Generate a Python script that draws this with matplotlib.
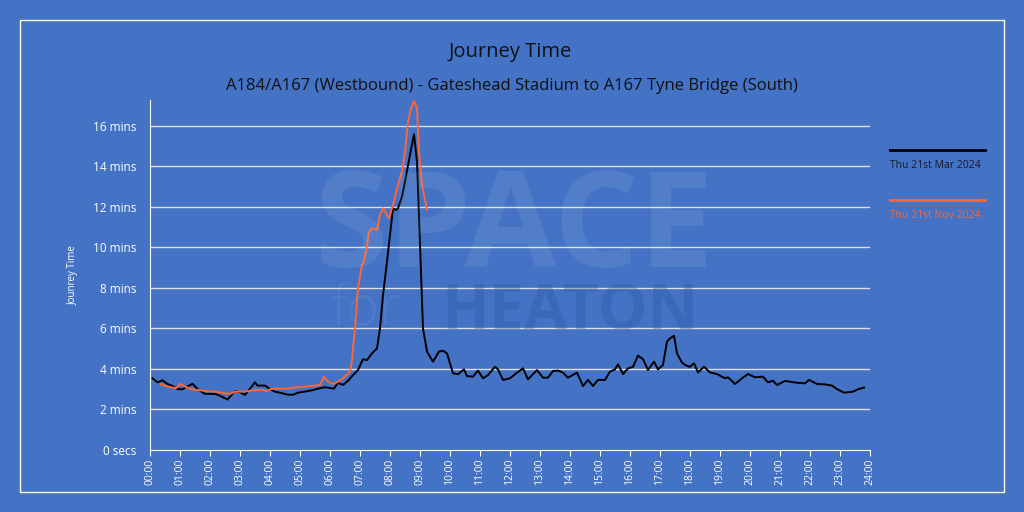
import matplotlib
matplotlib.use("Agg")
import matplotlib.pyplot as plt
import numpy as np
from matplotlib.patches import Rectangle
from matplotlib.lines import Line2D

plt.rcParams['font.family'] = ['Open Sans', 'DejaVu Sans']

# minutes after midnight, journey time in minutes
mar_minutes = [5, 15, 25, 35, 45, 55, 65, 75, 85, 95, 110, 130, 140, 155, 170, 180, 190,
               210, 215, 230, 240, 250, 260, 276, 286, 296, 314, 326, 340, 350, 360, 368,
               376, 386, 396, 406, 416, 426, 434, 444, 454, 460, 466, 474, 480, 486, 492,
               496, 504, 510, 520, 528, 534, 540, 546, 554, 566, 578, 586, 594, 606, 616,
               628, 634, 646, 656, 666, 676, 690, 696, 706, 720, 734, 746, 756, 774, 786,
               796, 806, 816, 826, 836, 854, 866, 876, 886, 896, 910, 920, 930, 936, 946,
               956, 966, 976, 986, 996, 1008, 1016, 1026, 1034, 1040, 1048, 1054, 1064,
               1074, 1080, 1088, 1096, 1108, 1120, 1134, 1150, 1156, 1170, 1184, 1196,
               1210, 1226, 1236, 1246, 1254, 1270, 1294, 1310, 1318, 1334, 1350, 1364,
               1374, 1388, 1406, 1416, 1428]
mar_values = [3.54, 3.34, 3.44, 3.26, 3.16, 3.01, 3.0, 3.14, 3.27, 3.01, 2.77, 2.77, 2.68,
              2.49, 2.91, 2.85, 2.72, 3.34, 3.18, 3.18, 3.01, 2.88, 2.83, 2.73, 2.73, 2.83,
              2.9, 2.96, 3.05, 3.1, 3.06, 3.03, 3.32, 3.21, 3.42, 3.7, 3.95, 4.48, 4.44,
              4.77, 5.02, 6.0, 7.65, 9.3, 10.62, 11.93, 11.85, 11.93, 12.51, 13.25, 14.57,
              15.59, 14.24, 10.12, 6.0, 4.86, 4.36, 4.86, 4.9, 4.77, 3.79, 3.74, 3.98, 3.65,
              3.62, 3.92, 3.54, 3.7, 4.11, 3.98, 3.46, 3.54, 3.82, 4.03, 3.49, 3.95, 3.57,
              3.57, 3.9, 3.92, 3.82, 3.57, 3.82, 3.16, 3.46, 3.16, 3.46, 3.46, 3.87, 3.98,
              4.23, 3.75, 4.03, 4.11, 4.66, 4.49, 3.95, 4.36, 3.98, 4.2, 5.35, 5.51, 5.64,
              4.77, 4.31, 4.15, 4.11, 4.28, 3.83, 4.11, 3.83, 3.75, 3.54, 3.59, 3.26, 3.54,
              3.75, 3.59, 3.62, 3.34, 3.42, 3.21, 3.41, 3.32, 3.29, 3.46, 3.26, 3.24, 3.18,
              3.01, 2.83, 2.88, 3.0, 3.08]

nov_minutes = [22, 36, 52, 60, 70, 82, 96, 112, 130, 150, 160, 170, 182, 196, 210, 226,
               232, 242, 254, 274, 294, 304, 320, 340, 348, 356, 366, 376, 386, 400, 404,
               406, 410, 416, 424, 428, 434, 438, 444, 454, 460, 466, 478, 486, 494, 504,
               510, 516, 522, 528, 534, 538, 544, 548, 554]
nov_values = [3.24, 3.13, 3.05, 3.26, 3.13, 3.01, 2.96, 2.91, 2.88, 2.8, 2.77, 2.88, 2.88,
              2.91, 2.96, 2.96, 2.91, 3.01, 3.03, 3.03, 3.1, 3.1, 3.16, 3.21, 3.62, 3.37,
              3.26, 3.37, 3.54, 3.87, 4.4, 5.02, 6.0, 7.98, 9.14, 9.3, 10.12, 10.78, 10.95,
              10.86, 11.6, 11.93, 11.44, 12.1, 12.92, 13.74, 14.73, 16.21, 16.87, 17.23,
              16.87, 14.73, 13.09, 12.59, 11.85]

series_labels = ["Thu 21st Mar 2024", "Thu 21st Nov 2024"]
y_ticks = [0, 2, 4, 6, 8, 10, 12, 14, 16]
y_tick_labels = ["0 secs"] + ["%d mins" % v for v in y_ticks[1:]]
x_tick_labels = ["%02d:00" % h for h in range(25)]

bg = '#4472c4'
orange = '#ff6633'

fig = plt.figure(figsize=(10.24, 5.12), dpi=100, facecolor=bg)
fig.patches.append(Rectangle((20 / 1024, 20 / 512), 984 / 1024, 472 / 512, transform=fig.transFigure,
                             fill=False, ec='white', lw=1))

# watermark
fig.text(515 / 1024, 1 - 232 / 512, "SPACE", ha='center', va='center', fontsize=96,
         fontweight='bold', color='white', alpha=0.08)
fig.text(330 / 1024, 1 - 310 / 512, "for", ha='left', va='center', fontsize=40,
         fontweight='light', color='white', alpha=0.06)
fig.text(570 / 1024, 1 - 313 / 512, "HEATON", ha='center', va='center', fontsize=45,
         fontweight='bold', color='#2d5aa8', alpha=0.35)

ax = fig.add_axes([150 / 1024, 62 / 512, 720 / 1024, 350 / 512])
ax.set_facecolor('none')

ax.plot(np.array(mar_minutes) / 60.0, mar_values, color='black', lw=1.4)
ax.plot(np.array(nov_minutes) / 60.0, nov_values, color=orange, lw=1.4)

ax.set_xlim(0, 24)
ax.set_ylim(0, 17.28)
ax.set_yticks(y_ticks)
ax.set_yticklabels(y_tick_labels)
ax.set_xticks(range(25))
ax.set_xticklabels(x_tick_labels, rotation=90)
ax.tick_params(axis='y', length=0, labelsize=8.5, colors='white', pad=10)
ax.tick_params(axis='x', length=4, labelsize=7.5, colors='white', pad=2)
for y in y_ticks[1:]:
    ax.axhline(y, color='#e0e0e0', lw=1, zorder=0)
for s in ['top', 'right']:
    ax.spines[s].set_visible(False)
ax.spines['left'].set_color('white')
ax.spines['bottom'].set_color('white')

ax.set_ylabel("Jounrey Time", color='white', fontsize=7, labelpad=10)

fig.text(510 / 1024, 1 - 52 / 512, "Journey Time", ha='center', va='center', fontsize=14.5,
         color='#111111')
fig.text(512 / 1024, 1 - 86 / 512, "A184/A167 (Westbound) - Gateshead Stadium to A167 Tyne Bridge (South)",
         ha='center', va='center', fontsize=12, color='#111111')

# legend
fig.add_artist(Line2D([890 / 1024, 985 / 1024], [1 - 150 / 512, 1 - 150 / 512],
                      transform=fig.transFigure, color='black', lw=2))
fig.text(890 / 1024, 1 - 166 / 512, series_labels[0], ha='left', va='center', fontsize=7.5,
         color='#1a1a2a')
fig.add_artist(Line2D([890 / 1024, 985 / 1024], [1 - 200 / 512, 1 - 200 / 512],
                      transform=fig.transFigure, color=orange, lw=2))
fig.text(890 / 1024, 1 - 216 / 512, series_labels[1], ha='left', va='center', fontsize=7.5,
         color=orange)

fig.savefig("out.png", dpi=100, facecolor=bg)
